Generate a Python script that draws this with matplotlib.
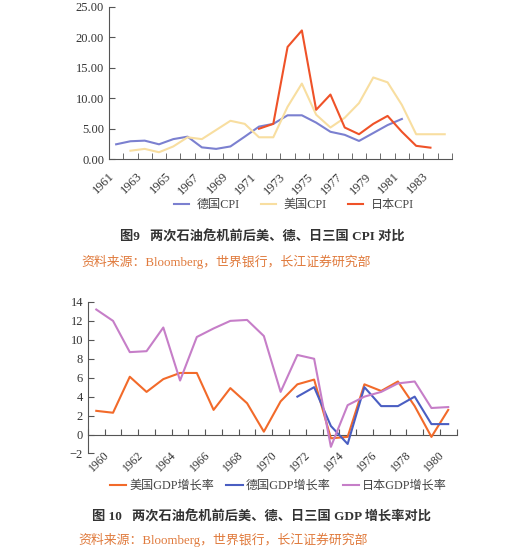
import numpy as np
import matplotlib
matplotlib.use("Agg")
from matplotlib import pyplot as plt
from matplotlib.transforms import ScaledTranslation

# CPI data, 1961-1984
cpi_years = list(range(1961, 1985))
de_cpi = [2.45, 2.95, 3.05, 2.45, 3.3, 3.7, 1.95, 1.7, 2.1, 3.7, 5.35, 5.8,
          7.2, 7.2, 6.0, 4.5, 4.0, 3.0, 4.3, 5.6, 6.6,
          None, None, None]
us_cpi = [None, 1.4, 1.7, 1.15, 2.1, 3.6, 3.3, 4.8, 6.3, 5.8, 3.6, 3.6,
          8.6, 12.4, 7.3, 5.2, 6.8, 9.2, 13.4, 12.6, 8.9, 4.1, 4.1, 4.1]
jp_cpi = [None] * 10 + [5.0, 5.8, 18.4, 21.1, 8.1, 10.6, 5.2, 4.1, 5.8, 7.1,
                        4.5, 2.2, 1.9, None]

# GDP growth data, 1960-1981
gdp_years = list(range(1960, 1982))
us_gdp = [2.5, 2.3, 6.1, 4.5, 5.85, 6.5, 6.5, 2.6, 4.9, 3.3, 0.3, 3.5,
          5.3, 5.8, -0.4, -0.25, 5.3, 4.6, 5.6, 3.0, -0.25, 2.6]
de_gdp = [None] * 12 + [4.0, 5.0, 0.9, -1.0, 5.0, 3.0, 3.0, 4.0, 1.1, 1.1]
jp_gdp = [13.2, 12.0, 8.7, 8.8, 11.3, 5.7, 10.3, 11.2, 12.0, 12.1, 10.4, 4.5,
          8.4, 8.0, -1.3, 3.1, 4.0, 4.5, 5.4, 5.6, 2.8, 2.9]

serif = ['Liberation Serif', 'Noto Sans CJK SC']
plt.rcParams['font.family'] = serif
plt.rcParams['axes.unicode_minus'] = False

def arr(v):
    return np.array([np.nan if x is None else x for x in v], dtype=float)

fig = plt.figure(figsize=(5.11, 5.53), dpi=100)

# ---- chart 1: CPI ----
ax1 = fig.add_axes([0.2133, 0.712, 0.671, 0.276])
x1 = np.arange(len(cpi_years))
l_de, = ax1.plot(x1, arr(de_cpi), color='#7b80d0', lw=1.5, label='德国CPI')
l_us, = ax1.plot(x1, arr(us_cpi), color='#f8dea0', lw=1.5, label='美国CPI')
l_jp, = ax1.plot(x1, arr(jp_cpi), color='#ef5228', lw=1.5, label='日本CPI')
ax1.set_xlim(-0.5, len(cpi_years) - 0.5)
ax1.set_ylim(0, 25)
ax1.set_yticks(np.arange(0, 26, 5))
ax1.set_yticklabels(['%.2f' % v for v in np.arange(0, 26, 5)])
ax1.set_xticks(x1[::2])
ax1.set_xticklabels([str(y) for y in cpi_years[::2]], rotation=45,
                    ha='center', va='top', fontsize=9)
ax1.set_xticks(np.arange(-0.5, len(cpi_years)), minor=True)
ax1.tick_params(axis='x', which='major', length=0, pad=8)
ax1.tick_params(axis='x', which='minor', direction='in', length=4,
                color='#555555')
ax1.tick_params(axis='y', direction='in', length=4, color='#555555',
                labelsize=9)
ax1.tick_params(labelcolor='#333333')
shift = ScaledTranslation(-0.13, 0, fig.dpi_scale_trans)
for lab in ax1.get_xticklabels():
    lab.set_transform(lab.get_transform() + shift)
for s in ['top', 'right']:
    ax1.spines[s].set_visible(False)
for s in ['left', 'bottom']:
    ax1.spines[s].set_color('#555555')

fig.legend(handles=[l_de, l_us, l_jp], loc='center',
           bbox_to_anchor=(0.575, 0.629), ncol=3, frameon=False,
           handlelength=1.25, columnspacing=1.8, handletextpad=0.6,
           prop={'family': serif, 'size': 8.7}, labelcolor='#444444')
fig.text(0.513, 0.571, '图9   两次石油危机前后美、德、日三国 CPI 对比',
         ha='center', va='center', fontsize=9.5, fontweight='bold',
         color='#333333', family=serif)
fig.text(0.160, 0.526, '资料来源：Bloomberg，世界银行，长江证券研究部',
         ha='left', va='center', fontsize=9.3, color='#e07a3c', family=serif)

# ---- chart 2: GDP growth ----
ax2 = fig.add_axes([0.172, 0.180, 0.7215, 0.274])
x2 = np.arange(len(gdp_years))
g_us, = ax2.plot(x2, arr(us_gdp), color='#f26a2a', lw=1.5,
                 label='美国GDP增长率')
g_de, = ax2.plot(x2, arr(de_gdp), color='#4a5ec2', lw=1.5,
                 label='德国GDP增长率')
g_jp, = ax2.plot(x2, arr(jp_gdp), color='#c67ec8', lw=1.5,
                 label='日本GDP增长率')
ax2.set_xlim(-0.5, len(gdp_years) - 0.5)
ax2.set_ylim(-2, 14)
ax2.set_yticks(np.arange(-2, 15, 2))
ax2.set_yticklabels(['−2' if v < 0 else str(v) for v in np.arange(-2, 15, 2)])
ax2.set_xticks(x2[::2])
ax2.set_xticklabels([str(y) for y in gdp_years[::2]], rotation=45,
                    ha='center', va='top', fontsize=8.5)
ax2.tick_params(axis='x', length=0, pad=-3)
ax2.tick_params(axis='y', direction='in', length=4, color='#555555',
                labelsize=9)
ax2.tick_params(labelcolor='#333333')
shift2 = ScaledTranslation(0.03, 0, fig.dpi_scale_trans)
for lab in ax2.get_xticklabels():
    lab.set_transform(lab.get_transform() + shift2)
for s in ['top', 'right', 'bottom']:
    ax2.spines[s].set_visible(False)
ax2.spines['left'].set_color('#555555')
zero = ax2.secondary_xaxis(0, transform=ax2.transData)
zero.set_xticks(np.arange(-0.5, len(gdp_years)))
zero.tick_params(direction='in', length=4, labelbottom=False,
                 color='#555555')
zero.spines['bottom'].set_color('#555555')

fig.legend(handles=[g_us, g_de, g_jp], loc='center',
           bbox_to_anchor=(0.545, 0.121), ncol=3, frameon=False,
           handlelength=1.35, columnspacing=1.0, handletextpad=0.25,
           prop={'family': serif, 'size': 8.7}, labelcolor='#444444')
fig.text(0.511, 0.065, '图 10   两次石油危机前后美、德、日三国 GDP 增长率对比',
         ha='center', va='center', fontsize=9.5, fontweight='bold',
         color='#333333', family=serif)
fig.text(0.153, 0.0235, '资料来源：Bloomberg，世界银行，长江证券研究部',
         ha='left', va='center', fontsize=9.3, color='#e07a3c', family=serif)

fig.savefig('out.png', dpi=100)
